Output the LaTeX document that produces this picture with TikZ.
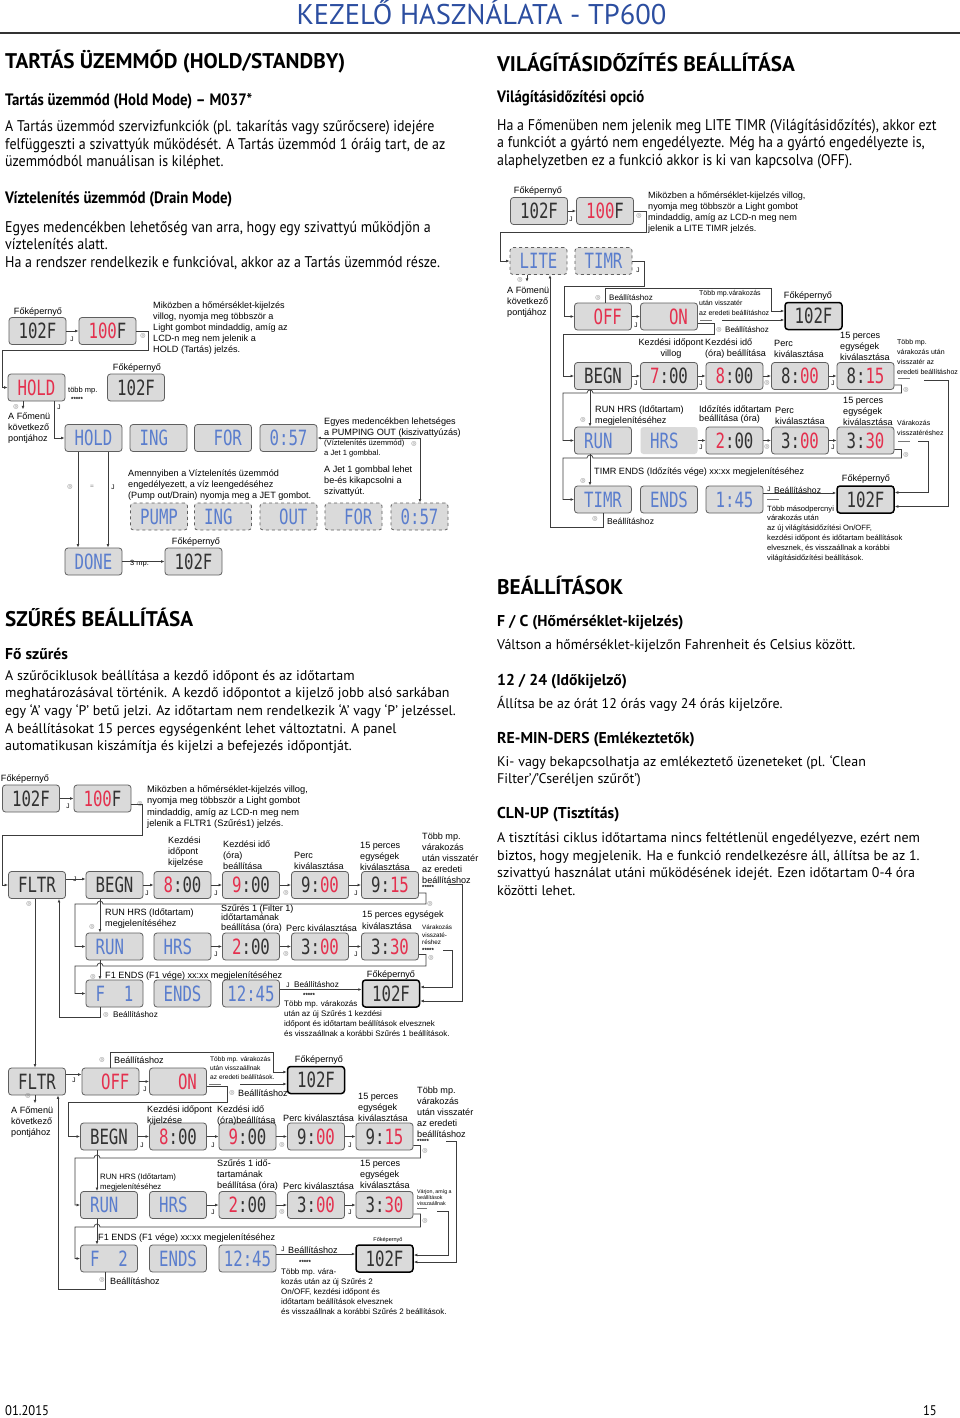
\documentclass[tikz,border=0pt]{standalone}
\usepackage{fontspec}
\setmainfont{PT Sans}
\newfontfamily\condfont[FakeStretch=0.9]{PT Sans}
\newfontfamily\arialfont{Liberation Sans}
\newfontfamily\lcdfont[FakeStretch=0.75]{DejaVu Sans Mono}
\newfontfamily\symfont{DejaVu Sans}
\usetikzlibrary{arrows.meta}
\usetikzlibrary{positioning}
\tikzset{>={Latex[length=3.5pt,width=2.8pt]}}
\definecolor{lcdgrey}{RGB}{218,218,218}
\definecolor{lcdedge}{RGB}{95,95,95}
\definecolor{lcdblack}{RGB}{50,50,50}
\definecolor{lcdred}{RGB}{228,48,78}
\definecolor{lcdblu}{RGB}{90,125,205}
\definecolor{wire}{RGB}{60,60,60}
\definecolor{btngrey}{RGB}{120,120,120}
\definecolor{titleblue}{RGB}{44,78,160}
\definecolor{rulegrey}{RGB}{50,50,50}
\newcommand{\rd}[1]{\textcolor{lcdred}{#1}}
\tikzset{
  lcd/.style={draw=lcdedge, fill=lcdgrey, rounded corners=3pt, line width=0.8pt,
    minimum width=57pt, minimum height=27pt, inner sep=0pt,
    font=\lcdfont\fontsize{21}{21}\selectfont, text=lcdblack},
  lcdhome/.style={lcd, draw=black, line width=1.5pt},
  lcdblue/.style={lcd, text=lcdblu},
  lcddash/.style={lcdblue, dashed},
  lcdflat/.style={lcdblue, draw=none},
  note/.style={anchor=west, align=left, inner sep=0pt,
    font=\arialfont\fontsize{9.1}{11}\selectfont},
  notec/.style={note, anchor=center, align=center},
  tinynote/.style={note, font=\arialfont\fontsize{7}{9.8}\selectfont},
  jet/.style={inner sep=0pt, font=\arialfont\fontsize{6.5}{6.5}\selectfont},
  lightbtn/.style={inner sep=0pt, text=btngrey, font=\symfont\fontsize{6}{6}\selectfont},
  stars/.style={anchor=west, inner sep=0pt, font=\arialfont\bfseries\fontsize{6}{6}\selectfont},
  wire/.style={draw=wire, line width=0.7pt},
  head/.style={anchor=west, inner sep=0pt, font=\bfseries\fontsize{21.2}{21.2}\selectfont},
  subhead/.style={anchor=west, inner sep=0pt, font=\condfont\bfseries\fontsize{16.5}{16.5}\selectfont},
  subhead2/.style={anchor=west, inner sep=0pt, font=\bfseries\fontsize{15.7}{15.7}\selectfont},
  bodytext/.style={anchor=west, align=left, inner sep=0pt, font=\condfont\fontsize{15.5}{17.5}\selectfont},
  plaintext/.style={anchor=west, align=left, inner sep=0pt, font=\fontsize{14}{17.6}\selectfont},
}

\begin{document}
\begin{tikzpicture}[x=1pt,y=-1pt]
\useasboundingbox (0,0) rectangle (960,1418);
\fill[white] (0,0) rectangle (960,1418);

%page head
\node[anchor=base, inner sep=0pt, text=titleblue, font=\fontsize{28.5}{28.5}\selectfont] (title) at (481.5,25) {KEZELŐ HASZNÁLATA - TP600};
\draw[draw=rulegrey, line width=1.8pt] (0,33) -- (960,33);

%left column
\node[head] (holdhead) at (5,62) {TARTÁS ÜZEMMÓD (HOLD/STANDBY)};
\node[subhead] (holdsub) at (5,101) {Tartás üzemmód (Hold Mode) – M037*};
\node[bodytext] (holdbody) at (5,145) {A Tartás üzemmód szervizfunkciók (pl. takarítás vagy szűrőcsere) idejére\\felfüggeszti a szivattyúk működését. A Tartás üzemmód 1 óráig tart, de az\\üzemmódból manuálisan is kiléphet.};
\node[subhead] (drainsub) at (5,199) {Víztelenítés üzemmód (Drain Mode)};
\node[bodytext] (drainbody) at (5,245.5) {Egyes medencékben lehetőség van arra, hogy egy szivattyú működjön a\\víztelenítés alatt.\\Ha a rendszer rendelkezik e funkcióval, akkor az a Tartás üzemmód része.};

%right column
\node[head] (litehead) at (497,62) {VILÁGÍTÁSIDŐZÍTÉS BEÁLLÍTÁSA};
\node[subhead] (litesub) at (497,98) {Világításidőzítési opció};
\node[bodytext] (litebody) at (497,144) {Ha a Főmenüben nem jelenik meg LITE TIMR (Világításidőzítés), akkor ezt\\a funkciót a gyártó nem engedélyezte. Még ha a gyártó engedélyezte is,\\alaphelyzetben ez a funkció akkor is ki van kapcsolva (OFF).};

%filter text
\node[head] (fltrhead) at (5,617) {SZŰRÉS BEÁLLÍTÁSA};
\node[subhead2] (fltrsub) at (5,654) {Fő szűrés};
\node[plaintext] (fltrbody) at (5,712) {A szűrőciklusok beállítása a kezdő időpont és az időtartam\\meghatározásával történik. A kezdő időpontot a kijelző jobb alsó sarkában\\egy ‘A’ vagy ‘P’ betű jelzi. Az időtartam nem rendelkezik ‘A’ vagy ‘P’ jelzéssel.\\A beállításokat 15 perces egységenként lehet változtatni. A panel\\automatikusan kiszámítja és kijelzi a befejezés időpontját.};

%settings text
\node[head] (sethead) at (497,585) {BEÁLLÍTÁSOK};
\node[subhead2] (setfc) at (497,623) {F / C (Hőmérséklet-kijelzés)};
\node[plaintext] (setfctxt) at (497,646) {Váltson a hőmérséklet-kijelzőn Fahrenheit és Celsius között.};
\node[subhead2] (setclock) at (497,682) {12 / 24 (Időkijelző)};
\node[plaintext] (setclocktxt) at (497,704) {Állítsa be az órát 12 órás vagy 24 órás kijelzőre.};
\node[subhead2] (setrem) at (497,740) {RE-MIN-DERS (Emlékeztetők)};
\node[plaintext] (setremtxt) at (497,771) {Ki- vagy bekapcsolhatja az emlékeztető üzeneteket (pl. ‘Clean\\Filter’/’Cseréljen szűrőt’)};
\node[subhead2] (setcln) at (497,815) {CLN-UP (Tisztítás)};
\node[plaintext] (setclntxt) at (497,864) {A tisztítási ciklus időtartama nincs feltétlenül engedélyezve, ezért nem\\biztos, hogy megjelenik. Ha e funkció rendelkezésre áll, állítsa be az 1.\\szivattyú használat utáni működésének idejét. Ezen időtartam 0-4 óra\\közötti lehet.};

%footer
\node[anchor=west, inner sep=0pt, font=\condfont\fontsize{14}{14}\selectfont] (date) at (5,1411) {01.2015};
\node[anchor=east, inner sep=0pt, font=\condfont\fontsize{14}{14}\selectfont] (pageno) at (937,1411) {15};

%%%% hold / drain diagram
%nodes
\node[notec] (holdlbl1) at (38,312) {Főképernyő};
\node[lcd] (holdhome) at (37.5,331) {102F};
\node[lcd] (holdset) at (107.5,331) {\rd{100}F};
\node[jet] (holdj1) at (72,339) {J};
\node[lightbtn] (holdl1) at (143,336) {◎};
\node[note] (holdtxt) at (153,328) {Miközben a hőmérséklet-kijelzés\\villog, nyomja meg többször a\\Light gombot mindaddig, amíg az\\LCD-n meg nem jelenik a\\HOLD (Tartás) jelzés.};
\node[lcd, text=lcdred] (hold) at (36.5,387.5) {HOLD};
\node[note, font=\arialfont\fontsize{7.5}{7.5}\selectfont] (holdwait) at (68,391) {több mp.};
\node[stars] (holdstars) at (71,399) {*****};
\node[notec] (holdlbl2) at (137,368) {Főképernyő};
\node[lcd] (holdback) at (136,387.5) {102F};
\node[lightbtn] (holdl2) at (16,407) {◎};
\node[note] (holdnext) at (8,428.5) {A Főmenü\\következő\\pontjához};
\node[jet] (holdj2) at (59,407) {J};
\node[lcdblue] (dr1) at (93.5,438) {HOLD};
\node[lcdblue] (dr2) at (158.5,438) {ING\phantom{0}};
\node[lcdblue] (dr3) at (223,438) {\phantom{0}FOR};
\node[lcdblue] (dr4) at (288.5,438) {0:57};
\node[note] (drtxt1) at (324,427.5) {Egyes medencékben lehetséges\\a PUMPING OUT (kiszivattyúzás)};
\node[note, font=\arialfont\fontsize{7.6}{9.4}\selectfont] (drtxt2) at (324,448.5) {(Víztelenítés üzemmód)\\a Jet 1 gombbal.};
\node[lightbtn] (drl1) at (414,444) {◎};
\node[note] (drtxt3) at (128,485) {Amennyiben a Víztelenítés üzemmód\\engedélyezett, a víz leengedéséhez\\(Pump out/Drain) nyomja meg a JET gombot.};
\node[note] (drtxt4) at (324,481.5) {A Jet 1 gombbal lehet\\be-és kikapcsolni a\\szivattyút.};
\node[lcddash] (pu1) at (159,516.5) {PUMP};
\node[lcddash] (pu2) at (223,516.5) {ING\phantom{0}};
\node[lcddash] (pu3) at (288.5,516.5) {\phantom{0}OUT};
\node[lcddash] (pu4) at (353.5,516.5) {\phantom{0}FOR};
\node[lcddash] (pu5) at (419.5,516.5) {0:57};
\node[lightbtn] (drl2) at (70,487) {◎};
\node[jet, text=btngrey] (drj0) at (92,487) {=};
\node[jet] (drj1) at (113,487) {J};
\node[lcdblue] (done) at (93.5,561.5) {DONE};
\node[notec] (holdlbl3) at (196,542) {Főképernyő};
\node[lcd] (doneback) at (193.5,561.5) {102F};
\node[note, font=\arialfont\fontsize{7.5}{7.5}\selectfont] (donewait) at (130,564) {3 mp.};
\coordinate (drtap) at (420,438);
%lines
\draw[wire,->] (holdhome) -- (holdset);
\draw[wire,->] (holdset.east) -- ++(12,0) |- (2,350) |- (hold.west);
\draw[wire,->] ([xshift=-13.5]hold.south) -- ++(0,8);
\draw[wire,->] ([xshift=17.5]hold.south) |- (dr1.west);
\draw[wire,->] (drtap) -- (dr4.east);
\draw[wire,->] (drtap) -- (drtap |- pu5.north);
\draw[wire,->] ([xshift=-15.5]dr1.south) -- ([xshift=-15.5]done.north);
\draw[wire,->] ([xshift=14.5]dr1.south) -- ([xshift=14.5]done.north);
\draw[wire,->] (done) -- (doneback);

%%%% light timer diagram
%nodes
\node[notec] (litelbl1) at (538,191) {Főképernyő};
\node[lcd] (litehome) at (539,211) {102F};
\node[lcd] (liteset) at (605,211) {\rd{100}F};
\node[jet] (litej1) at (571,219) {J};
\node[lightbtn] (litel1) at (639,216) {◎};
\node[note] (litetxt) at (648,212.5) {Miközben a hőmérséklet-kijelzés villog,\\nyomja meg többször a Light gombot\\mindaddig, amíg az LCD-n meg nem\\jelenik a LITE TIMR jelzés.};
\node[lcddash] (lite) at (538.5,261) {LITE};
\node[lcddash] (timr) at (603.5,261) {TIMR};
\node[lightbtn] (litel2) at (520,280) {◎};
\node[note] (litenext) at (507,302.5) {A Fömenü\\következő\\pontjához};
\node[jet] (litej2) at (638,270) {J};
\node[lcd, text=lcdred] (off) at (603,316.5) {\phantom{0}OFF};
\node[lcd, text=lcdred] (on) at (669,316.5) {\phantom{00}ON};
\node[jet] (litej3) at (636,325) {J};
\node[lightbtn] (litel3) at (598,298) {◎};
\node[note, font=\arialfont\fontsize{8}{8}\selectfont] (liteadj1) at (609,298) {Beállításhoz};
\node[tinynote] (litewait1) at (699,303) {Több mp.várakozás\\után visszatér\\az eredeti beállításhoz};
\node[stars] (litedots1) at (700,322) {------};
\node[notec] (litelbl2) at (808,296) {Főképernyő};
\node[lcdhome] (litehome2) at (813.5,316) {102F};
\node[lightbtn] (litel4) at (719,330) {◎};
\node[note, font=\arialfont\fontsize{8}{8}\selectfont] (liteadj2) at (725,330) {Beállításhoz};
\node[lcd] (lbegn) at (603,376) {BEGN};
\node[lcd] (lt1) at (669,376) {\rd{7}:00};
\node[lcd] (lt2) at (734.5,376) {\rd{8}:00};
\node[lcd] (lt3) at (800,376) {8:\rd{00}};
\node[lcd] (lt4) at (865.5,376) {8:\rd{15}};
\node[notec] (lbl1) at (671,349) {Kezdési időpont\\villog};
\node[note] (lbl2) at (705,349) {Kezdési idő\\(óra) beállítása};
\node[note] (lbl3) at (774,349) {Perc\\kiválasztása};
\node[note] (lbl4) at (840,346) {15 perces\\egységek\\kiválasztása};
\node[jet] (lj1) at (636,383) {J};
\node[jet] (lj2) at (701,383) {J};
\node[lightbtn] (ll1) at (767,383) {◎};
\node[jet] (lj3) at (833,383) {J};
\node[tinynote] (litewait2) at (897,357) {Több mp.\\várakozás után\\visszatér az\\eredeti beállításhoz};
\node[stars] (litedots2) at (898,380) {------};
\node[lightbtn] (ll2) at (906,390) {◎};
\node[lightbtn] (ll3) at (583,420) {◎};
\node[note] (lbl5) at (595,415.5) {RUN HRS (Időtartam)\\megjelenítéséhez};
\node[lcdblue] (lrun) at (603,440.5) {RUN\phantom{0}};
\node[lcdflat] (lhrs) at (669,440.5) {HRS\phantom{0}};
\node[lcd] (lt5) at (734.5,440.5) {\rd{2}:00};
\node[lcd] (lt6) at (800,440.5) {3:\rd{00}};
\node[lcd] (lt7) at (865.5,440.5) {3:\rd{30}};
\node[note, font=\arialfont\fontsize{9.1}{9.8}\selectfont] (lbl6) at (699,414.5) {Időzítés időtartam\\beállítása (óra)};
\node[note] (lbl7) at (775,416) {Perc\\kiválasztása};
\node[note] (lbl8) at (843,411) {15 perces\\egységek\\kiválasztása};
\node[jet] (lj4) at (701,447) {J};
\node[lightbtn] (ll4) at (767,447) {◎};
\node[jet] (lj5) at (833,447) {J};
\node[tinynote] (litewait3) at (897,428) {Várakozás\\visszatéréshez};
\node[stars] (litedots3) at (898,443) {------};
\node[lightbtn] (ll5) at (906,455) {◎};
\node[lightbtn] (ll6) at (583,481) {◎};
\node[note] (lbl9) at (594,472) {TIMR ENDS (Időzítés vége) xx:xx megjelenítéséhez};
\node[lcdblue] (ltimr) at (603,499.5) {TIMR};
\node[lcdblue] (lends) at (669,499.5) {ENDS};
\node[lcdblue] (lt8) at (734.5,499.5) {1:45};
\node[notec] (litelbl3) at (866,479) {Főképernyő};
\node[lcdhome] (litehome3) at (865.5,499.5) {102F};
\node[jet] (lj6) at (769,489) {J};
\node[note, font=\arialfont\fontsize{8.6}{8.6}\selectfont] (liteadj3) at (774,490) {Beállításhoz};
\node[stars] (litedots4) at (767,501) {------};
\node[note, font=\arialfont\fontsize{7.6}{9.8}\selectfont] (litelost) at (767,533.5) {Több másodpercnyi\\várakozás után\\az új világításidőzítési On/OFF,\\kezdési időpont és időtartam beállítások\\elvesznek, és visszaállnak a korábbi\\világításidőzítési beállítások.};
\node[lightbtn] (ll7) at (595,519) {◎};
\node[note, font=\arialfont\fontsize{8.6}{8.6}\selectfont] (liteadj4) at (607,521) {Beállításhoz};
\coordinate (litewaitA) at (722,320);
\coordinate (litewaitB) at (924,380);
\coordinate (litewaitC) at (918,441);
%lines
\draw[wire,->] (litehome) -- (liteset);
\draw[wire,->] (liteset.east) -- ++(12,0) |- (500,232) |- (lite.west);
\draw[wire,->] ([xshift=-11.5]lite.south) -- ++(0,7);
\draw[wire,->] (timr.east) -- ++(12,0) |- (564,286) |- (off.west);
\draw[wire,->] (off) -- (on);
\draw[wire,->] ([xshift=2]off.north) |- (771,288) |- ([yshift=5]litehome2.west);
\draw[wire,->] (litewaitA) -- (litewaitA -| litehome2.west);
\draw[wire,->] ([yshift=-7]on.east) -- ++(16,0) |- (563,334) |- (lbegn.west);
\draw[wire,->] (lbegn) -- (lt1);
\draw[wire,->] (lt1) -- (lt2);
\draw[wire,->] (lt2) -- (lt3);
\draw[wire,->] (lt3) -- (lt4);
\draw[wire,->] (litewaitB) -- ++(24,0) |- ([yshift=-7]litehome3.east);
\draw[wire,->] ([yshift=-9]lt4.east) -- ++(7,0) |- (593,393) arc[start angle=0,end angle=-180,radius=3] -- (563,393) |- (lrun.west);
\draw[wire,->] ([xshift=-13]lbegn.south) -- ([xshift=-13]lrun.north);
\draw[wire,->] (lhrs) -- (lt5);
\draw[wire,->] (lt5) -- (lt6);
\draw[wire,->] (lt6) -- (lt7);
\draw[wire,->] (litewaitC) -- ++(10,0) |- ([yshift=7]litehome3.east);
\draw[wire,->] ([yshift=-9]lt7.east) -- ++(7,0) |- (593,458) arc[start angle=0,end angle=-180,radius=3] -- (563,458) |- (ltimr.west);
\draw[wire,->] ([xshift=-13]lrun.south) -- ([xshift=-13]ltimr.north);
\draw[wire,->] ([yshift=6.5]lt8.east) -- ([yshift=6.5]litehome3.west);
\draw[wire,->] (ltimr.south) -- ++(0,14) -| ([xshift=11.5]lite.south);

%%%% filter 1 diagram
%nodes
\node[notec] (f1lbl1) at (25,779) {Főképernyő};
\node[lcd] (f1home) at (31,798.5) {102F};
\node[lcd] (f1set) at (102.5,798.5) {\rd{100}F};
\node[jet] (f1j1) at (68,806) {J};
\node[lightbtn] (f1l1) at (140,804) {◎};
\node[note, font=\arialfont\fontsize{9.3}{11.3}\selectfont] (f1txt) at (147,807) {Miközben a hőmérséklet-kijelzés villog,\\nyomja meg többször a Light gombot\\mindaddig, amíg az LCD-n meg nem\\jelenik a FLTR1 (Szűrés1) jelzés.};
\node[lcd] (fltr) at (37,885) {FLTR};
\node[jet] (f1j2) at (75,879) {J};
\node[lightbtn] (f1l2) at (29,904) {◎};
\node[lcd] (f1begn) at (114.5,885) {BEGN};
\node[lcd] (f1t1) at (182.5,885) {\rd{8}:00};
\node[lcd] (f1t2) at (251,885) {\rd{9}:00};
\node[lcd] (f1t3) at (320,885) {9:\rd{00}};
\node[lcd] (f1t4) at (390,885) {9:\rd{15}};
\node[note] (f1lb1) at (168,852) {Kezdési\\időpont\\kijelzése};
\node[note] (f1lb2) at (223,855) {Kezdési idő\\(óra)\\beállítása};
\node[note] (f1lb3) at (294,860.5) {Perc\\kiválasztása};
\node[note] (f1lb4) at (360,856) {15 perces\\egységek\\kiválasztása};
\node[note] (f1wait1) at (422,858) {Több mp.\\várakozás\\után visszatér\\az eredeti\\beállításhoz};
\node[stars] (f1stars1) at (422,887) {*****};
\node[jet] (f1j3) at (147,893) {J};
\node[jet] (f1j4) at (216,893) {J};
\node[lightbtn] (f1l3) at (286,893) {◎};
\node[jet] (f1j5) at (356,893) {J};
\node[lightbtn] (f1l4) at (430,904) {◎};
\node[lightbtn] (f1l5) at (92,927) {◎};
\node[note] (f1lb5) at (105,919) {RUN HRS (Időtartam)\\megjelenítéséhez};
\node[lcdblue] (f1run) at (114.5,946.5) {RUN\phantom{0}};
\node[lcdblue] (f1hrs) at (182.5,946.5) {HRS\phantom{0}};
\node[lcd] (f1t5) at (251,946.5) {\rd{2}:00};
\node[lcd] (f1t6) at (320,946.5) {3:\rd{00}};
\node[lcd] (f1t7) at (390,946.5) {3:\rd{30}};
\node[note, font=\arialfont\fontsize{9.1}{9.4}\selectfont] (f1lb6) at (221,918.5) {Szűrés 1 (Filter 1)\\időtartamának\\beállítása (óra)};
\node[note] (f1lb7) at (286,928) {Perc kiválasztása};
\node[note, font=\arialfont\fontsize{9.1}{12}\selectfont] (f1lb8) at (362,920.5) {15 perces egységek\\kiválasztása};
\node[note, font=\arialfont\fontsize{6.3}{7.6}\selectfont] (f1wait2) at (422,935) {Várakozás\\visszaté-\\réshez};
\node[stars] (f1stars2) at (422,950) {*****};
\node[jet] (f1j6) at (216,954) {J};
\node[lightbtn] (f1l6) at (286,954) {◎};
\node[jet] (f1j7) at (356,954) {J};
\node[lightbtn] (f1l7) at (431,958) {◎};
\node[lightbtn] (f1l8) at (93,977) {◎};
\node[note] (f1lb9) at (105,976) {F1 ENDS (F1 vége) xx:xx megjelenítéséhez};
\node[lcdblue] (f1box) at (114.5,993.5) {F\phantom{00}1};
\node[lcdblue] (f1ends) at (182.5,993.5) {ENDS};
\node[lcdblue] (f1t8) at (251,993.5) {12:45};
\node[notec] (f1lbl2) at (391,975) {Főképernyő};
\node[lcdhome] (f1end) at (391,993.5) {102F};
\node[jet] (f1j8) at (288,985) {J};
\node[note, font=\arialfont\fontsize{8.2}{8.2}\selectfont] (f1adj1) at (294,985) {Beállításhoz};
\node[stars] (f1stars3) at (303,995) {*****};
\node[note, font=\arialfont\fontsize{8}{10}\selectfont] (f1lost) at (284,1019) {Több mp. várakozás\\után az új Szűrés 1 kezdési\\időpont és időtartam beállítások elvesznek\\és visszaállnak a korábbi Szűrés 1 beállítások.};
\node[lightbtn] (f1l9) at (106,1015) {◎};
\node[note, font=\arialfont\fontsize{8.2}{8.2}\selectfont] (f1adj2) at (113,1015) {Beállításhoz};
\coordinate (f1waitA) at (448,884);
\coordinate (f1waitB) at (443,950);
%lines
\draw[wire,->] (f1home) -- (f1set);
\draw[wire,->] ([yshift=-6]f1set.east) -- ++(11,0) |- (2,835) |- (fltr.west);
\draw[wire,->] ([yshift=6]fltr.east) -- ([yshift=6]f1begn.west);
\draw[wire,->] (f1begn) -- (f1t1);
\draw[wire,->] (f1t1) -- (f1t2);
\draw[wire,->] (f1t2) -- (f1t3);
\draw[wire,->] (f1t3) -- (f1t4);
\draw[wire,->] (f1waitA) -- ++(14,0) |- ([yshift=-7.5]f1end.east);
\draw[wire,->] ([yshift=-8]f1t4.east) -- ++(7,0) |- (103,904) arc[start angle=0,end angle=-180,radius=3] -- (75,904) |- (f1run.west);
\draw[wire,->] ([xshift=-14.5]f1begn.south) -- ([xshift=-14.5]f1run.north);
\draw[wire,->] (f1hrs) -- (f1t5);
\draw[wire,->] (f1t5) -- (f1t6);
\draw[wire,->] (f1t6) -- (f1t7);
\draw[wire,->] (f1waitB) -- ++(9,0) |- ([yshift=6.5]f1end.east);
\draw[wire,->] ([yshift=-8]f1t7.east) -- ++(7,0) |- (103,966) arc[start angle=0,end angle=-180,radius=3] -- (75,966) |- (f1box.west);
\draw[wire,->] ([xshift=-14.5]f1run.south) -- ([xshift=-14.5]f1box.north);
\draw[wire,->] ([yshift=4]f1t8.east) -- ([yshift=4]f1end.west);
\draw[wire,->] ([xshift=-14.5]f1box.south) -- ++(0,10) -| ([xshift=22]fltr.south);

%%%% filter 2 diagram
%nodes
\node[lcd] (fltr2) at (37,1081.5) {FLTR};
\node[lightbtn] (f2l1) at (28,1096) {◎};
\node[note] (f2next) at (11,1122) {A Főmenü\\következő\\pontjához};
\node[jet] (f2j1) at (74,1080) {J};
\node[lcd, text=lcdred] (f2off) at (110.5,1081.5) {\phantom{0}OFF};
\node[lcd, text=lcdred] (f2on) at (178,1081.5) {\phantom{00}ON};
\node[jet] (f2j2) at (145,1089) {J};
\node[lightbtn] (f2l2) at (102,1060) {◎};
\node[note] (f2adj1) at (114,1060) {Beállításhoz};
\node[note, font=\arialfont\fontsize{6.6}{9}\selectfont] (f2wait1) at (210,1068) {Több mp. várakozás\\után visszaállnak\\az eredeti beállítások.};
\node[stars] (f2dots1) at (209,1086) {------};
\node[notec] (f2lbl1) at (319,1060) {Főképernyő};
\node[lcdhome] (f2home) at (316,1080) {102F};
\node[lightbtn] (f2l3) at (232,1093) {◎};
\node[note] (f2adj2) at (238,1093) {Beállításhoz};
\node[lcd] (f2begn) at (109,1136.5) {BEGN};
\node[lcd] (f2t1) at (178,1136.5) {\rd{8}:00};
\node[lcd] (f2t2) at (247.5,1136.5) {\rd{9}:00};
\node[lcd] (f2t3) at (316,1136.5) {9:\rd{00}};
\node[lcd] (f2t4) at (384.5,1136.5) {9:\rd{15}};
\node[note, font=\arialfont\fontsize{9.1}{10.3}\selectfont] (f2lb1) at (147,1115.5) {Kezdési időpont\\kijelzése};
\node[note, font=\arialfont\fontsize{9.1}{10.3}\selectfont] (f2lb2) at (217,1115.5) {Kezdési idő\\(óra)beállítása};
\node[note] (f2lb3) at (283,1118.5) {Perc kiválasztása};
\node[note] (f2lb4) at (358,1107.5) {15 perces\\egységek\\kiválasztása};
\node[note] (f2wait2) at (417,1112) {Több mp.\\várakozás\\után visszatér\\az eredeti\\beállításhoz};
\node[stars] (f2stars1) at (417,1141) {*****};
\node[jet] (f2j3) at (142,1145) {J};
\node[jet] (f2j4) at (213,1145) {J};
\node[lightbtn] (f2l4) at (282,1145) {◎};
\node[jet] (f2j5) at (350,1145) {J};
\node[lightbtn] (f2l5) at (425,1151) {◎};
\node[note, font=\arialfont\fontsize{7.8}{10}\selectfont] (f2lb5) at (100,1182) {RUN HRS (Időtartam)\\megjelenítéséhez};
\node[lcdblue] (f2run) at (109,1205) {RUN\phantom{0}};
\node[lcdblue] (f2hrs) at (178,1205) {HRS\phantom{0}};
\node[lcd] (f2t5) at (247.5,1205) {\rd{2}:00};
\node[lcd] (f2t6) at (316,1205) {3:\rd{00}};
\node[lcd] (f2t7) at (384.5,1205) {3:\rd{30}};
\node[note] (f2lb6) at (217,1175) {Szűrés 1 idő-\\tartamának\\beállítása (óra)};
\node[note] (f2lb7) at (283,1186.5) {Perc kiválasztása};
\node[note] (f2lb8) at (360,1174.5) {15 perces\\egységek\\kiválasztása};
\node[note, font=\arialfont\fontsize{5.3}{5.6}\selectfont] (f2wait3) at (417,1197.5) {Várjon, amíg a\\beállítások\\visszaállnak};
\node[stars] (f2dots2) at (417,1210) {-----};
\node[jet] (f2j6) at (213,1212) {J};
\node[lightbtn] (f2l6) at (282,1212) {◎};
\node[jet] (f2j7) at (350,1212) {J};
\node[lightbtn] (f2l7) at (425,1221) {◎};
\node[note] (f2lb9) at (98,1238) {F1 ENDS (F1 vége) xx:xx megjelenítéséhez};
\node[lcdblue] (f2box) at (109,1258.5) {F\phantom{00}2};
\node[lcdblue] (f2ends) at (178,1258.5) {ENDS};
\node[lcdblue] (f2t8) at (247.5,1258.5) {12:45};
\node[notec, font=\arialfont\fontsize{5.5}{5.5}\selectfont] (f2lbl2) at (388,1240) {Főképernyő};
\node[lcdhome] (f2end) at (384.5,1258.5) {102F};
\node[jet] (f2j8) at (283,1249) {J};
\node[note] (f2adj3) at (288,1250) {Beállításhoz};
\node[stars] (f2stars2) at (299,1262) {*****};
\node[note, font=\arialfont\fontsize{8}{9.8}\selectfont] (f2lost) at (281,1291.5) {Több mp. vára-\\kozás után az új Szűrés 2\\On/OFF, kezdési időpont és\\időtartam beállítások elvesznek\\és visszaállnak a korábbi Szűrés 2 beállítások.};
\node[lightbtn] (f2l8) at (102,1280) {◎};
\node[note] (f2adj4) at (110,1281) {Beállításhoz};
\coordinate (f2waitA) at (240,1084);
\coordinate (f2waitB) at (446,1141);
\coordinate (f2waitC) at (437,1211);
%lines
\draw[wire,->] ([xshift=-2]fltr.south) -- ([xshift=-2]fltr2.north);
\draw[wire,->] ([xshift=-2]fltr2.south) -- ++(0,8);
\draw[wire,->] ([yshift=7]fltr2.east) -- ([yshift=7]f2off.west);
\draw[wire,->] (f2off) -- (f2on);
\draw[wire,->] (f2off.north) |- (273,1052) |- ([yshift=8]f2home.west);
\draw[wire,->] (f2waitA) -- (f2waitA -| f2home.west);
\draw[wire,->] ([yshift=-5]f2on.east) -- ++(20,0) |- (68,1102) |- (f2begn.west);
\draw[wire,->] (f2begn) -- (f2t1);
\draw[wire,->] (f2t1) -- (f2t2);
\draw[wire,->] (f2t2) -- (f2t3);
\draw[wire,->] (f2t3) -- (f2t4);
\draw[wire,->] (f2waitB) -- ++(10,0) |- ([yshift=-3.5]f2end.east);
\draw[wire,->] ([yshift=-9]f2t4.east) -- ++(7,0) |- (100,1158) arc[start angle=0,end angle=-180,radius=3] -- (75,1158) |- (f2run.west);
\draw[wire,->] ([xshift=-12]f2begn.south) -- ([xshift=-12]f2run.north);
\draw[wire,->] (f2hrs) -- (f2t5);
\draw[wire,->] (f2t5) -- (f2t6);
\draw[wire,->] (f2t6) -- (f2t7);
\draw[wire,->] (f2waitC) -- ++(11,0) |- ([yshift=3.5]f2end.east);
\draw[wire,->] ([yshift=-9]f2t7.east) -- ++(7,0) |- (100,1227) arc[start angle=0,end angle=-180,radius=3] -- (75,1227) |- (f2box.west);
\draw[wire,->] ([xshift=-12]f2run.south) -- ([xshift=-12]f2box.north);
\draw[wire,->] ([yshift=4.5]f2t8.east) -- ([yshift=4.5]f2end.west);
\draw[wire,->] ([xshift=-4]f2box.south) -- ++(0,17) -| ([xshift=21]fltr2.south);
\end{tikzpicture}
\end{document}
